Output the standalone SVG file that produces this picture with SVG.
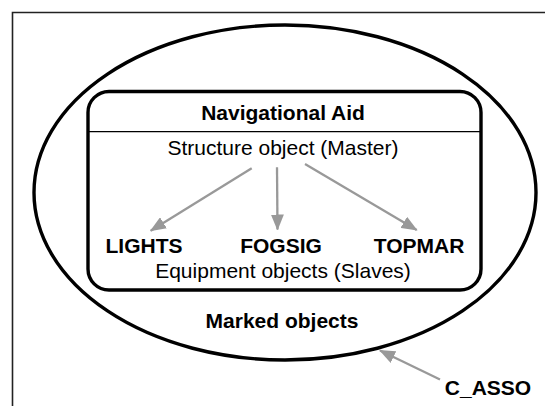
<svg xmlns="http://www.w3.org/2000/svg" width="545" height="406" viewBox="0 0 545 406">
  <defs>
    <style>
      .t { font-family: "Liberation Sans", Arial, sans-serif; font-size: 21px; fill: #000; text-anchor: middle; }
      .b { font-weight: bold; }
      .edge { stroke: #999; stroke-width: 2.3; fill: none; }
      .shape { fill: none; stroke: #000; stroke-width: 3.4; }
    </style>
    <marker id="arrow" markerWidth="10" markerHeight="10" refX="8.5" refY="5" orient="auto" markerUnits="userSpaceOnUse" viewBox="0 0 10 10">
      <path d="M0,0 L10,5 L0,10 z" fill="#999"/>
    </marker>
    <marker id="arrowBig" viewBox="0 0 16 13" markerWidth="16" markerHeight="13" refX="15" refY="6.5" orient="auto" markerUnits="userSpaceOnUse">
      <path d="M0,0 L16,6.5 L0,13 z" fill="#999"/>
    </marker>
  </defs>
  <rect width="545" height="406" fill="#fff"/>
  <g id="frame">
    <path d="M12.5,406 V12.5 H545" fill="none" stroke="#222" stroke-width="1.6"/>
  </g>
  <g id="marked-objects">
    <ellipse class="shape" cx="285" cy="192.5" rx="251" ry="167.5"/>
    <text class="t b" x="282" y="328">Marked objects</text>
  </g>
  <g id="navigational-aid">
    <rect class="shape" x="88" y="91.5" width="393" height="198.5" rx="21" ry="21"/>
    <line x1="88" y1="131.7" x2="481" y2="131.7" stroke="#000" stroke-width="1.2"/>
    <text class="t b" x="283" y="120">Navigational Aid</text>
    <text class="t" x="283" y="155">Structure object (Master)</text>
    <text class="t" x="283" y="278">Equipment objects (Slaves)</text>
  </g>
  <g id="lights">
    <text class="t b" x="144" y="253">LIGHTS</text>
  </g>
  <g id="fogsig">
    <text class="t b" x="281" y="253">FOGSIG</text>
  </g>
  <g id="topmar">
    <text class="t b" x="419" y="253">TOPMAR</text>
  </g>
  <g id="c-asso">
    <text class="t b" x="488" y="395">C_ASSO</text>
  </g>
  <g id="connectors">
    <line class="edge" x1="251.7" y1="168.3" x2="150.7" y2="230.7" marker-end="url(#arrowBig)"/>
    <line class="edge" x1="277" y1="167.3" x2="277.5" y2="229.5" marker-end="url(#arrowBig)"/>
    <line class="edge" x1="305" y1="164" x2="416.7" y2="230" marker-end="url(#arrowBig)"/>
    <line class="edge" x1="440" y1="379.5" x2="380" y2="350.5" marker-end="url(#arrowBig)"/>
  </g>
</svg>
